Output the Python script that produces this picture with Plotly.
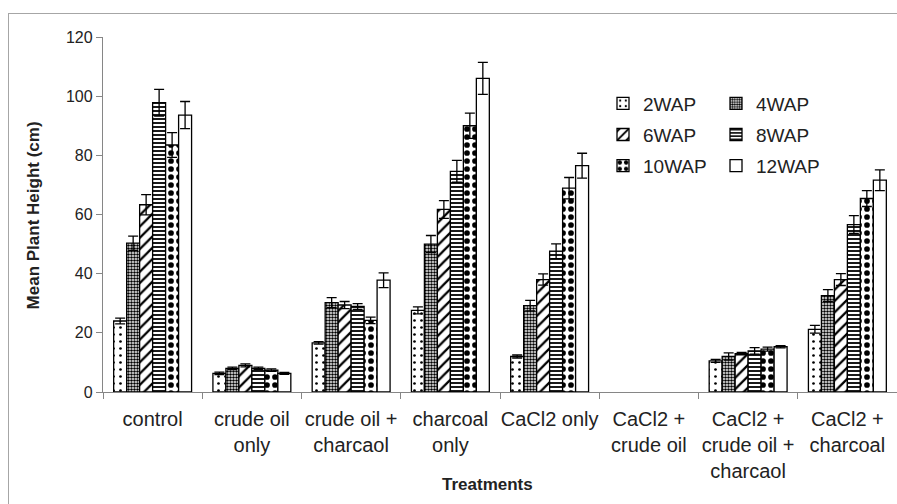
import plotly.graph_objects as go

# ---------------- data ----------------
categories = ["control", "crude oil<br>only", "crude oil +<br>charcaol", "charcoal<br>only",
              "CaCl2 only", "CaCl2 +<br>crude oil", "CaCl2 +<br>crude oil +<br>charcaol",
              "CaCl2 +<br>charcoal"]
series_names = ["2WAP", "4WAP", "6WAP", "8WAP", "10WAP", "12WAP"]

wap2 = [24.0, 6.3, 16.6, 27.6, 12.0, 0, 10.5, 21.2]
wap2_err = [1.0, 0.4, 0.4, 1.2, 0.5, 0, 0.5, 1.3]
wap4 = [50.3, 8.0, 30.2, 50.0, 29.2, 0, 12.0, 32.6]
wap4_err = [2.4, 0.4, 1.7, 2.9, 1.8, 0, 1.2, 2.0]
wap6 = [63.3, 9.0, 29.4, 61.7, 38.0, 0, 13.0, 38.0]
wap6_err = [3.4, 0.5, 1.2, 3.0, 1.9, 0, 0.4, 2.0]
wap8 = [97.8, 8.0, 28.9, 74.6, 47.6, 0, 13.9, 56.6]
wap8_err = [4.5, 0.4, 1.0, 3.7, 2.5, 0, 1.1, 3.0]
wap10 = [83.5, 7.4, 24.2, 90.0, 68.9, 0, 14.5, 65.4]
wap10_err = [4.2, 0.4, 1.1, 4.3, 3.6, 0, 0.7, 2.7]
wap12 = [93.6, 6.3, 37.8, 106.0, 76.5, 0, 15.3, 71.6]
wap12_err = [4.6, 0.3, 2.5, 5.4, 4.2, 0, 0.4, 3.5]

values = [wap2, wap4, wap6, wap8, wap10, wap12]
errors = [wap2_err, wap4_err, wap6_err, wap8_err, wap10_err, wap12_err]

y_ticks = [0, 20, 40, 60, 80, 100, 120]

# ---------------- styling ----------------
FONT = "Liberation Sans, Arial, sans-serif"
W, H = 897, 504
L, R, T, B = 103, 0, 36.5, 112.3
PW, PH = W - L - R, H - T - B


def xp(px):
    return (px - L) / PW


def yp(py):
    return (H - B - py) / PH


patterns = [
    dict(shape=".", size=7, solidity=0.12),
    dict(shape=".", size=3, solidity=0.55),
    dict(shape="/", size=8, solidity=0.28),
    dict(shape="-", size=4, solidity=0.45),
    dict(shape=".", size=8, solidity=0.4),
    dict(shape="", size=8, solidity=0.2),
]
legend_of = ["legend", "legend2", "legend", "legend2", "legend", "legend2"]

fig = go.Figure()
for name, vals, errs, pat, lg in zip(series_names, values, errors, patterns, legend_of):
    yv = [v if v else None for v in vals]
    ev = [e if v else None for v, e in zip(vals, errs)]
    fig.add_trace(go.Bar(
        x=categories, y=yv, name=name, legend=lg, legendgroup=name,
        marker=dict(color="white", line=dict(color="black", width=1.3),
                    pattern=dict(fgcolor="black", bgcolor="white", fillmode="replace", **pat)),
        error_y=dict(type="data", array=ev, visible=True, color="black", thickness=1.3, width=5),
    ))

legend_common = dict(font=dict(family=FONT, size=19, color="#222"), bgcolor="rgba(0,0,0,0)",
                     traceorder="grouped", tracegroupgap=3.5, xanchor="left", yanchor="top",
                     itemclick=False)

fig.update_layout(
    width=W, height=H,
    margin=dict(l=L, r=R, t=T, b=B),
    paper_bgcolor="white", plot_bgcolor="white",
    barmode="group", bargap=0.215, bargroupgap=0,
    font=dict(family=FONT, color="#222"),
    legend=dict(x=xp(603), y=yp(84), **legend_common),
    legend2=dict(x=xp(716), y=yp(84), **legend_common),
    xaxis=dict(type="category", tickson="boundaries", ticks="outside", ticklen=6,
               tickcolor="#868686", showline=True, linecolor="#868686", linewidth=1.3,
               showgrid=False, tickfont=dict(family=FONT, size=20, color="#222"),
               tickangle=0, ticklabelstandoff=9, range=[-0.5, 7.5]),
    yaxis=dict(range=[0, 120], tickvals=y_ticks, ticks="outside", ticklen=6,
               tickcolor="#868686", showline=True, linecolor="#868686", linewidth=1.3,
               showgrid=False, zeroline=False, tickfont=dict(family=FONT, size=16, color="#222")),
    annotations=[
        dict(text="<b>Mean Plant Height (cm)</b>", textangle=-90, xref="paper", yref="paper",
             x=xp(33), y=yp(215), xanchor="center", yanchor="middle", showarrow=False,
             font=dict(family=FONT, size=17, color="#222")),
        dict(text="<b>Treatments</b>", xref="paper", yref="paper", x=xp(487), y=yp(484),
             xanchor="center", yanchor="middle", showarrow=False,
             font=dict(family=FONT, size=17, color="#222")),
    ],
)

# chart-area frame (top and left edges visible, as in the cropped reference)
frame_js = (
    "document.body.style.margin='0';document.body.style.overflow='hidden';"
    "document.documentElement.style.overflow='hidden';"
    "var f=document.createElement('div');"
    "f.style.cssText='position:absolute;left:8px;top:13px;width:1000px;height:600px;"
    "border-left:1.5px solid #a6a6a6;border-top:1.5px solid #a6a6a6;pointer-events:none;';"
    "document.body.appendChild(f);"
)

fig.write_html("out.html", config={"displayModeBar": False}, post_script=frame_js)
